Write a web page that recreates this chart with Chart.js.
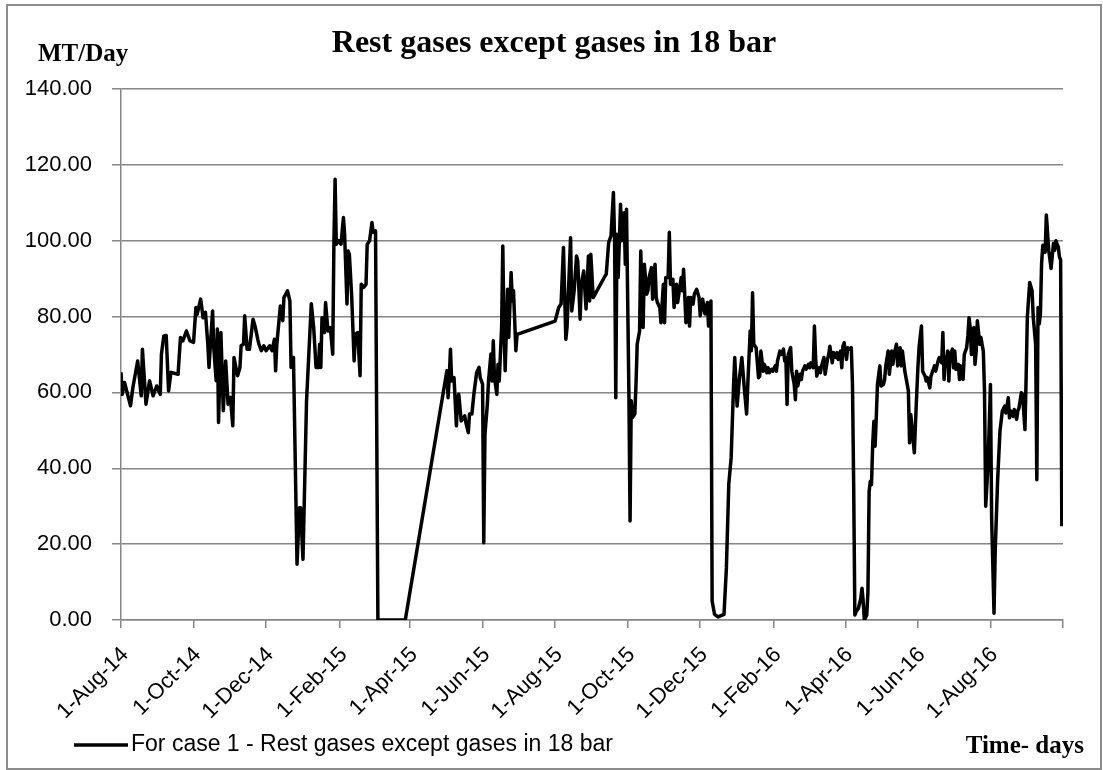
<!DOCTYPE html>
<html>
<head>
<meta charset="utf-8">
<title>Rest gases except gases in 18 bar</title>
<script src="https://cdn.jsdelivr.net/npm/chart.js@4.4.1/dist/chart.umd.min.js"></script>
<style>
  body { margin: 0; background: #fff; }
  .frame {
    position: absolute; left: 6px; top: 4px; width: 1096px; height: 766px;
    border: 2px solid #8c8c8c; box-sizing: border-box;
  }
  #gasChart { position: absolute; left: 0; top: 0; }
</style>
</head>
<body>
<div class="frame"></div>
<canvas id="gasChart" width="1103" height="770"></canvas>
<script>
// days counted from 1-Aug-14
const days = [
  0, 1, 3, 8, 10, 14, 17, 18, 21, 24,
  27, 30, 33, 34, 36, 38, 40, 42, 48, 50,
  52, 55, 58, 61, 63, 64, 67, 69, 71, 73,
  74, 77, 78, 80, 81, 82, 84, 86, 88, 90,
  92, 94, 95, 98, 100, 101, 103, 104, 106, 108,
  111, 113, 115, 116, 118, 120, 122, 125, 127, 129,
  130,
  131, 134, 136, 137, 140, 142, 143, 145, 148, 150,
  151, 153, 156, 160, 162, 164, 166, 167, 168, 169,
  171, 172, 174, 176, 178, 179, 180, 181, 183, 185,
  187, 188, 190, 191, 192, 194, 196, 197, 199, 201,
  202, 204, 206, 207, 209, 211, 212, 214, 216, 239,
  274, 275, 276, 277, 278, 280, 282, 283, 284, 286,
  288, 289, 290, 292, 293, 295, 297, 299, 301, 302,
  304, 305, 306, 308, 309, 311, 312, 313, 314, 316,
  317, 318, 320, 321, 322, 323, 325, 326, 328, 329,
  330, 332, 333, 365, 368, 370, 372, 374, 375, 378,
  379, 381, 383, 384, 386, 387, 389, 391, 393, 394,
  395, 397,
  407, 408, 410, 412, 414, 415, 416, 417, 418, 420,
  421, 423, 424, 425, 427, 428, 429, 430, 432, 433,
  434, 436, 437, 438, 439, 440, 442, 443, 444, 446,
  447, 449, 450, 451, 453, 454, 456, 457, 458, 460,
  461, 462, 464, 465, 467, 468, 471, 472, 473, 475,
  477, 478, 479, 481, 482, 484, 486, 487, 489, 491,
  493, 494, 496, 497, 499, 502, 507, 509, 511, 513,
  515, 516, 518, 520, 522, 524, 526, 527, 529, 530,
  531, 532, 534, 536,
  537, 538, 540, 541, 543, 544, 545, 547, 548, 550,
  551, 552, 554, 555, 557, 558, 559, 560, 561, 563,
  564, 566, 567, 568, 569, 571, 572, 573, 575, 576,
  578, 579, 580, 582, 583, 584, 585, 587, 588, 589,
  591, 592, 594, 595, 596, 598, 599, 601, 602, 603,
  605, 606, 607, 608, 610, 611, 613, 614, 615, 616,
  617, 618, 620, 622, 623, 624, 625, 627, 628, 629,
  630, 631, 632, 633, 634, 635, 636, 638, 639, 641,
  642, 643, 645, 646, 648, 649, 650, 652, 653, 655,
  656, 657, 659, 660, 662, 663, 664, 666, 667, 668,
  669, 670, 671,
  673, 674, 676, 677, 678, 680, 681, 683, 684, 685,
  687, 688, 690, 691, 692, 693, 694, 695, 696, 697,
  699, 700, 701, 702, 704, 705, 706, 708, 709, 711,
  712, 713, 714, 715, 717, 718, 719, 720, 722, 723,
  725, 726, 727, 729, 731, 732, 734, 735, 737, 739,
  741, 743, 744, 746, 747, 748, 750, 751, 753, 754,
  755, 757, 758, 760, 761, 762, 764, 766, 767, 769,
  770, 771, 772, 773, 774, 775, 777, 778, 780, 782,
  784, 785, 786, 788, 789, 790, 791
];

// MT/Day
const restGases = [
  65.3, 59.5, 62.6, 56.5, 61.3, 68.3, 59.1, 71.4, 56.9, 63.1,
  59.1, 61.7, 59.5, 70.1, 74.9, 75.0, 60.4, 65.3, 64.8, 74.5,
  73.6, 76.2, 73.6, 73.2, 82.4, 80.6, 84.6, 79.7, 81.1, 72.7,
  66.6, 81.5, 71.8, 63.1, 76.7, 52.1, 75.8, 55.2, 68.3, 56.9,
  58.7, 51.2, 69.2, 64.4, 66.6, 72.3, 72.7, 80.2, 71.4, 71.4,
  79.3, 77.1, 74.0, 72.7, 71.0, 72.3, 71.0, 72.3, 71.0, 74.0,
  65.7,
  72.7, 82.8, 78.9, 85.0, 86.8, 84.1, 66.6, 69.2, 14.7, 29.6,
  29.6, 16.0, 57.8, 83.4, 77.1, 66.6, 66.6, 72.7, 66.6, 79.7,
  75.8, 83.7, 76.2, 77.1, 70.1, 99.1, 116.2, 99.1, 100.0, 99.1,
  106.1, 101.7, 83.3, 97.3, 96.4, 85.0, 68.3, 75.3, 75.8, 64.4,
  88.5, 87.7, 88.5, 99.1, 100.0, 104.8, 102.2, 102.6, 0, 0,
  65.7, 58.6, 63.9, 71.4, 63.0, 63.9, 51.2, 58.6, 59.5, 52.5,
  53.4, 53.8, 52.0, 49.4, 54.3, 54.3, 60.4, 65.2, 66.6, 63.9,
  62.2, 20.4, 48.9, 56.8, 63.0, 70.1, 63.0, 73.6, 63.9, 59.5,
  67.4, 63.0, 77.1, 98.6, 77.1, 65.7, 87.2, 74.5, 91.6, 84.1,
  86.8, 71.0, 75.3, 78.8, 82.4, 83.3, 98.2, 74.0, 77.1, 100.8,
  81.5, 86.8, 96.0, 94.7, 79.3, 88.5, 92.0, 82.0, 96.0, 84.1,
  96.4, 85.0,
  90.7, 91.2, 99.5, 101.3, 112.7, 100.0, 58.6, 101.7, 90.3, 109.6,
  100.0, 107.4, 93.8, 108.3, 60.4, 26.1, 57.8, 53.4, 54.3, 62.2,
  72.7, 76.2, 97.3, 84.1, 77.1, 93.8, 85.9, 86.8, 90.3, 92.9,
  84.6, 93.8, 85.0, 83.7, 82.4, 78.4, 88.5, 78.4, 90.3, 90.3,
  102.2, 88.5, 89.8, 82.4, 88.5, 83.7, 90.3, 86.8, 92.5, 78.4,
  85.0, 77.5, 85.0, 83.3, 85.9, 87.2, 85.0, 80.2, 84.6, 80.7,
  83.7, 77.5, 84.1, 5.0, 1.5, 0.8, 1.5, 13.8, 35.8, 42.8,
  61.7, 69.2, 56.4, 63.9, 69.2, 61.3, 54.3, 62.2, 76.2, 71.0,
  86.3, 72.7, 71.8, 63.9,
  64.3, 70.9, 65.6, 67.4, 65.2, 66.5, 65.2, 66.1, 65.6, 67.0,
  65.6, 68.3, 70.9, 70.0, 71.4, 68.3, 69.2, 56.8, 70.0, 71.8,
  65.6, 62.1, 58.1, 65.6, 61.7, 64.8, 63.4, 65.6, 67.0, 66.1,
  67.4, 66.5, 67.8, 66.5, 77.5, 69.2, 64.3, 66.5, 65.2, 67.0,
  69.2, 64.8, 68.7, 70.0, 72.2, 67.8, 70.5, 69.2, 70.5, 68.7,
  70.9, 66.5, 72.2, 73.1, 68.7, 71.8, 71.4, 71.8, 62.1, 35.7,
  1.3, 2.2, 3.1, 5.7, 8.4, 4.9, 0, 1.3, 7.5, 33.9,
  36.6, 35.7, 46.3, 52.4, 45.8, 53.3, 62.1, 67.0, 61.7, 62.1,
  63.4, 67.0, 70.9, 64.8, 70.9, 67.4, 70.0, 72.7, 67.0, 71.8,
  67.0, 70.9, 65.6, 63.9, 60.4, 46.7, 54.2, 47.6, 44.1, 52.0,
  59.5, 66.5, 72.0,
  77.5, 65.6, 64.3, 63.0, 63.9, 61.2, 64.3, 66.1, 67.0, 65.6,
  68.3, 69.2, 67.8, 75.8, 63.4, 69.2, 67.0, 70.9, 63.0, 70.0,
  71.4, 66.5, 70.9, 66.1, 67.4, 63.4, 67.0, 63.4, 70.0, 71.8,
  74.9, 79.7, 77.1, 70.0, 77.1, 67.4, 70.9, 78.9, 72.7, 74.5,
  70.9, 60.4, 30.0, 41.0, 62.1, 26.9, 1.8, 18.1, 36.6, 49.8,
  55.1, 56.4, 54.6, 58.6, 53.3, 55.1, 53.7, 55.5, 52.9, 55.1,
  55.9, 59.9, 59.5, 50.2, 63.9, 79.7, 89.0, 86.8, 79.7, 72.7,
  37.0, 82.4, 78.0, 80.6, 94.0, 98.8, 97.0, 106.8, 97.5, 92.7,
  99.3, 97.5, 100.0, 98.4, 95.8, 94.9, 24.7
];

const tickLabels = [
  "1-Aug-14", "1-Oct-14", "1-Dec-14", "1-Feb-15", "1-Apr-15", "1-Jun-15", "1-Aug-15",
  "1-Oct-15", "1-Dec-15", "1-Feb-16", "1-Apr-16", "1-Jun-16", "1-Aug-16"
];
const axisEnd = "1-Oct-16";
const chartTitle = "Rest gases except gases in 18 bar";
const seriesLabel = "For case 1 - Rest gases except gases in 18 bar";

const monthNames = ["Jan", "Feb", "Mar", "Apr", "May", "Jun", "Jul", "Aug", "Sep", "Oct", "Nov", "Dec"];
const startDate = Date.UTC(2014, 7, 1);

function labelToDay(label) {
  const [day, month, year] = label.split("-");
  const time = Date.UTC(2000 + Number(year), monthNames.indexOf(month), Number(day));
  return Math.round((time - startDate) / 86400000);
}

const endDay = labelToDay(axisEnd);
const tickDays = tickLabels.map(labelToDay).concat(endDay);
const gridColor = "#868686";

// title, unit captions and the legend row sit outside the plot area
const chartCaptions = {
  id: "chartCaptions",
  afterDraw(chart) {
    const { ctx } = chart;
    const dataset = chart.data.datasets[0];
    ctx.save();
    ctx.fillStyle = "#000";
    ctx.textBaseline = "alphabetic";

    ctx.font = "bold 32px 'Liberation Serif'";
    ctx.textAlign = "center";
    ctx.fillText(chartTitle, 554, 52);

    ctx.font = "bold 25px 'Liberation Serif'";
    ctx.textAlign = "left";
    ctx.fillText("MT/Day", 38, 61);
    ctx.textAlign = "right";
    ctx.fillText("Time- days", 1084, 753);

    ctx.strokeStyle = dataset.borderColor;
    ctx.lineWidth = dataset.borderWidth;
    ctx.beginPath();
    ctx.moveTo(74, 745);
    ctx.lineTo(128, 745);
    ctx.stroke();

    ctx.font = "23px 'Liberation Sans'";
    ctx.textAlign = "left";
    ctx.textBaseline = "middle";
    ctx.fillText(dataset.label, 131, 745);
    ctx.restore();
  },
};

Chart.defaults.font.family = "'Liberation Sans', Arial, sans-serif";
Chart.defaults.color = "#000";

new Chart(document.getElementById("gasChart"), {
  type: "line",
  data: {
    datasets: [
      {
        label: seriesLabel,
        data: days.map((day, i) => ({ x: day, y: restGases[i] })),
        borderColor: "#000",
        backgroundColor: "#000",
        borderWidth: 3.5,
        borderJoinStyle: "round",
        pointRadius: 0,
        tension: 0,
        fill: false,
      },
    ],
  },
  options: {
    responsive: false,
    animation: false,
    layout: { padding: { left: 0, right: 40, top: 89, bottom: 0 } },
    plugins: {
      legend: { display: false },
      tooltip: { enabled: false },
    },
    scales: {
      x: {
        type: "linear",
        min: 0,
        max: endDay,
        afterBuildTicks: (scale) => {
          scale.ticks = tickDays.map((value) => ({ value }));
        },
        afterFit: (scale) => {
          scale.height = 150;
        },
        ticks: {
          autoSkip: false,
          minRotation: 45,
          maxRotation: 45,
          padding: 14,
          labelOffset: 4,
          font: { size: 22 },
          callback: (value, index) => tickLabels[index] ?? "",
        },
        grid: { drawOnChartArea: false, tickLength: 8, color: gridColor, lineWidth: 1.5 },
        border: { color: gridColor, width: 1.5 },
      },
      y: {
        min: 0,
        max: 140,
        afterFit: (scale) => {
          scale.width = 121;
        },
        ticks: {
          stepSize: 20,
          padding: 20,
          font: { size: 22 },
          callback: (value) => value.toFixed(2),
        },
        grid: { color: gridColor, lineWidth: 1.5, tickLength: 9 },
        border: { color: gridColor, width: 1.5 },
      },
    },
  },
  plugins: [chartCaptions],
});
</script>
</body>
</html>
